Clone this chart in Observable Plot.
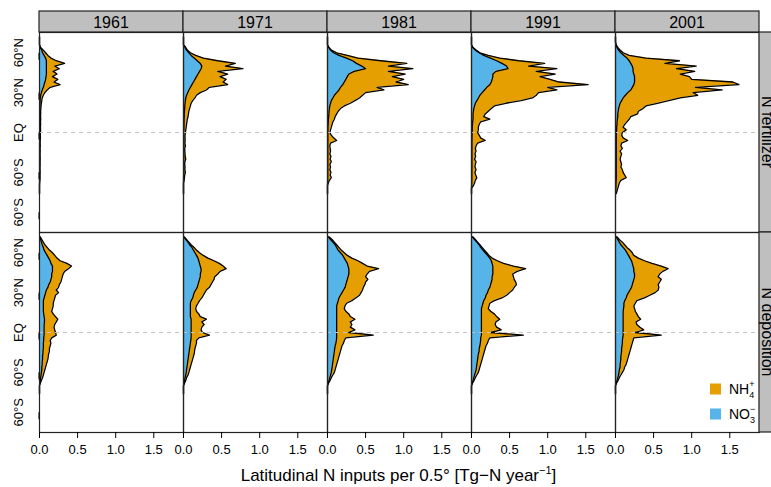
<!DOCTYPE html>
<html><head><meta charset="utf-8">
<script src="https://cdn.jsdelivr.net/npm/d3@7"></script>
<script src="https://cdn.jsdelivr.net/npm/@observablehq/plot@0.6"></script>
<style>
body{margin:0;background:#fff;}
#chart svg{display:block;}
</style></head><body><div id="chart"></div>
<script>
// latitude grid (axis units)
const lat = [72,70,68,66,64,62,60,58,56,54, 52,50,48,46,44,42,40,38,36,34, 32,30,28,26,24,22,20,18,16,14, 12,10,8,6,4,2,0,-2,-4,-6, -8,-10,-12,-14,-16,-18,-20,-22,-24,-26, -28,-30,-32,-34,-36,-38,-40,-42,-44,-46];
const years = ["1961","1971","1981","1991","2001"];
const types = ["N fertilizer","N deposition"];
const species = ["NO3","NH4"];
const xTicks = [0, 0.5, 1, 1.5];
const yTicks = [60, 30, 0, -30, -60];
const yTickLabels = ["60°N","30°N","EQ","60°S","60°S"];

// N fertilizer
const fert1961_NO3 = [0,0,0,0,0.01,0.03,0.04,0.06,0.08,0.09, 0.09,0.09,0.09,0.09,0.09,0.085,0.08,0.07,0.06,0.05, 0.035,0.025,0.015,0.01,0.008,0.006,0.005,0.004,0.003,0.003, 0.003,0.003,0.003,0.003,0.002,0.002,0.002,0.002,0.002,0.002, 0.001,0.001,0.001,0.001,0.001,0.001,0.001,0.001,0.001,0.001, 0.001,0.001,0.001,0.001,0.001,0,0,0,0,0];
const fert1961_NH4 = [0,0,0,0,0.005,0.02,0.04,0.05,0.07,0.13, 0.24,0.11,0.17,0.09,0.14,0.085,0.16,0.12,0.21,0.09, 0.065,0.045,0.035,0.025,0.022,0.019,0.015,0.014,0.012,0.012, 0.011,0.013,0.010,0.012,0.010,0.012,0.010,0.008,0.010,0.007, 0.007,0.009,0.006,0.008,0.006,0.007,0.008,0.006,0.007,0.005, 0.006,0.007,0.005,0.006,0.004,0.002,0,0,0,0];
const fert1971_NO3 = [0,0,0,0,0.02,0.04,0.07,0.10,0.14,0.18, 0.22,0.24,0.23,0.21,0.19,0.17,0.15,0.13,0.11,0.09, 0.07,0.055,0.04,0.03,0.025,0.02,0.017,0.015,0.012,0.01, 0.01,0.008,0.007,0.006,0.005,0.004,0.003,0.002,0.002,0.002, 0.002,0.002,0.002,0.002,0.002,0.002,0.002,0.002,0.002,0.002, 0.002,0.002,0.002,0.001,0.001,0,0,0,0,0];
const fert1971_NH4 = [0,0,0,0,0.01,0.01,0.02,0.06,0.12,0.27, 0.46,0.31,0.55,0.24,0.39,0.31,0.41,0.39,0.47,0.25, 0.23,0.165,0.13,0.12,0.095,0.08,0.073,0.065,0.058,0.055, 0.05,0.042,0.038,0.034,0.03,0.026,0.022,0.018,0.018,0.02, 0.016,0.023,0.014,0.016,0.018,0.02,0.028,0.016,0.014,0.018, 0.016,0.023,0.014,0.011,0.007,0,0,0,0,0];
const fert1981_NO3 = [0,0,0,0,0.015,0.04,0.08,0.15,0.25,0.33, 0.38,0.45,0.50,0.35,0.28,0.26,0.24,0.22,0.20,0.17, 0.15,0.12,0.09,0.07,0.05,0.04,0.03,0.025,0.02,0.018, 0.015,0.012,0.01,0.008,0.006,0.005,0.004,0.004,0.004,0.004, 0.003,0.003,0.003,0.003,0.003,0.003,0.003,0.003,0.003,0.003, 0.003,0.003,0.003,0.003,0.002,0.001,0,0,0,0];
const fert1981_NH4 = [0,0,0,0,0.005,0.01,0.04,0.11,0.15,0.37, 0.66,0.35,0.62,0.45,0.74,0.59,0.76,0.68,0.86,0.48, 0.59,0.38,0.37,0.35,0.31,0.26,0.19,0.145,0.12,0.102, 0.085,0.078,0.06,0.052,0.044,0.035,0.026,0.046,0.076,0.116, 0.037,0.027,0.032,0.037,0.027,0.042,0.032,0.047,0.027,0.037, 0.027,0.042,0.032,0.047,0.023,0.009,0,0,0,0];
const fert1991_NO3 = [0,0,0,0,0.015,0.05,0.10,0.16,0.25,0.33, 0.40,0.46,0.48,0.32,0.28,0.28,0.27,0.26,0.24,0.20, 0.17,0.14,0.11,0.09,0.07,0.05,0.04,0.03,0.025,0.02, 0.02,0.02,0.015,0.012,0.01,0.01,0.008,0.007,0.006,0.006, 0.005,0.005,0.005,0.005,0.005,0.005,0.005,0.005,0.005,0.005, 0.004,0.004,0.004,0.004,0.003,0.003,0.002,0,0,0];
const fert1991_NH4 = [0,0,0,0,0.005,0.01,0.01,0.06,0.12,0.29, 0.56,0.29,0.64,0.53,0.82,0.62,0.76,0.89,1.29,0.80, 0.95,0.74,0.74,0.71,0.58,0.40,0.26,0.23,0.195,0.16, 0.14,0.22,0.105,0.088,0.08,0.08,0.072,0.093,0.114,0.174, 0.075,0.055,0.045,0.055,0.04,0.05,0.035,0.055,0.045,0.04, 0.056,0.041,0.051,0.066,0.047,0.037,0.023,0,0,0];
const fert2001_NO3 = [0,0,0,0.005,0.02,0.04,0.07,0.11,0.15,0.18, 0.20,0.22,0.23,0.23,0.24,0.25,0.25,0.25,0.24,0.22, 0.20,0.16,0.13,0.10,0.08,0.06,0.05,0.04,0.035,0.03, 0.03,0.025,0.02,0.02,0.015,0.015,0.012,0.01,0.01,0.01, 0.01,0.01,0.01,0.01,0.01,0.01,0.01,0.01,0.01,0.01, 0.01,0.01,0.01,0.01,0.008,0.006,0.005,0.004,0.003,0.002];
const fert2001_NH4 = [0,0,0,0.005,0.01,0.02,0.03,0.07,0.25,0.66, 0.45,0.84,0.57,0.81,0.61,0.72,0.75,1.29,1.38,0.83, 1.20,0.86,0.95,0.75,0.62,0.49,0.35,0.32,0.265,0.26, 0.17,0.155,0.13,0.10,0.085,0.125,0.078,0.07,0.09,0.15, 0.07,0.06,0.08,0.05,0.07,0.06,0.05,0.06,0.07,0.06, 0.08,0.09,0.11,0.13,0.062,0.044,0.035,0.026,0.017,0.008];

// N deposition
const dep1961_NO3 = [0.005,0.015,0.025,0.035,0.05,0.06,0.08,0.10,0.12,0.14, 0.15,0.17,0.17,0.17,0.16,0.16,0.15,0.14,0.12,0.11, 0.09,0.08,0.07,0.06,0.05,0.05,0.05,0.05,0.05,0.055, 0.06,0.065,0.065,0.06,0.06,0.06,0.06,0.06,0.055,0.055, 0.05,0.05,0.05,0.045,0.045,0.04,0.04,0.035,0.035,0.03, 0.03,0.025,0.02,0.015,0.01,0.005,0,0,0,0];
const dep1961_NH4 = [0.005,0.015,0.025,0.035,0.05,0.07,0.09,0.10,0.11,0.13, 0.21,0.25,0.21,0.16,0.15,0.14,0.14,0.14,0.14,0.14, 0.13,0.17,0.14,0.14,0.14,0.13,0.13,0.12,0.11,0.125, 0.15,0.175,0.155,0.14,0.13,0.14,0.15,0.16,0.105,0.085, 0.10,0.09,0.08,0.085,0.075,0.075,0.07,0.065,0.055,0.05, 0.04,0.035,0.03,0.025,0.015,0.007,0,0,0,0];
const dep1971_NO3 = [0.005,0.03,0.06,0.08,0.11,0.13,0.15,0.17,0.19,0.20, 0.21,0.22,0.23,0.23,0.22,0.22,0.21,0.20,0.19,0.18, 0.16,0.14,0.13,0.12,0.10,0.09,0.09,0.09,0.09,0.09, 0.09,0.10,0.10,0.10,0.10,0.10,0.10,0.10,0.10,0.095, 0.09,0.085,0.08,0.075,0.07,0.065,0.06,0.055,0.05,0.045, 0.04,0.035,0.03,0.02,0.015,0.007,0,0,0,0];
const dep1971_NH4 = [0.005,0.01,0.01,0.02,0.03,0.04,0.06,0.09,0.13,0.20, 0.26,0.30,0.33,0.25,0.23,0.19,0.19,0.18,0.17,0.16, 0.14,0.14,0.13,0.12,0.11,0.10,0.08,0.07,0.08,0.11, 0.13,0.20,0.14,0.17,0.14,0.13,0.15,0.24,0.10,0.075, 0.08,0.075,0.07,0.07,0.07,0.065,0.06,0.055,0.05,0.045, 0.04,0.035,0.03,0.02,0.015,0.008,0,0,0,0];
const dep1981_NO3 = [0.01,0.04,0.07,0.10,0.12,0.14,0.17,0.20,0.22,0.24, 0.26,0.27,0.28,0.28,0.28,0.27,0.26,0.25,0.24,0.23, 0.21,0.19,0.17,0.15,0.14,0.13,0.12,0.12,0.12,0.12, 0.12,0.12,0.12,0.12,0.12,0.12,0.12,0.12,0.12,0.115, 0.11,0.10,0.095,0.09,0.085,0.08,0.075,0.07,0.065,0.06, 0.055,0.05,0.04,0.03,0.02,0.01,0,0,0,0];
const dep1981_NH4 = [0.01,0.02,0.02,0.02,0.03,0.04,0.05,0.06,0.10,0.16, 0.20,0.25,0.39,0.27,0.24,0.23,0.27,0.25,0.25,0.24, 0.25,0.25,0.25,0.22,0.18,0.12,0.11,0.10,0.12,0.16, 0.18,0.24,0.18,0.20,0.18,0.24,0.16,0.48,0.12,0.105, 0.10,0.09,0.085,0.08,0.075,0.07,0.065,0.06,0.055,0.05, 0.045,0.04,0.03,0.02,0.015,0.005,0,0,0,0];
const dep1991_NO3 = [0.01,0.04,0.07,0.10,0.12,0.15,0.18,0.21,0.24,0.26, 0.27,0.28,0.28,0.28,0.28,0.27,0.27,0.26,0.25,0.24, 0.22,0.21,0.19,0.18,0.16,0.15,0.14,0.13,0.13,0.13, 0.13,0.13,0.13,0.13,0.13,0.13,0.13,0.13,0.12,0.12, 0.115,0.11,0.10,0.10,0.09,0.085,0.08,0.075,0.07,0.065, 0.06,0.05,0.04,0.03,0.02,0.01,0,0,0,0];
const dep1991_NH4 = [0.01,0.01,0.01,0.01,0.02,0.02,0.02,0.02,0.03,0.08, 0.15,0.27,0.43,0.32,0.26,0.28,0.29,0.32,0.34,0.32, 0.32,0.29,0.27,0.22,0.14,0.09,0.09,0.09,0.12,0.17, 0.20,0.24,0.19,0.18,0.20,0.26,0.12,0.55,0.12,0.10, 0.095,0.08,0.08,0.07,0.07,0.065,0.06,0.055,0.05,0.045, 0.04,0.04,0.03,0.02,0.015,0.005,0,0,0,0];
const dep2001_NO3 = [0.01,0.03,0.05,0.07,0.10,0.13,0.15,0.17,0.19,0.21, 0.22,0.23,0.24,0.24,0.25,0.25,0.24,0.23,0.22,0.21, 0.19,0.17,0.15,0.14,0.12,0.11,0.11,0.105,0.10,0.10, 0.10,0.10,0.10,0.10,0.10,0.10,0.10,0.10,0.095,0.09, 0.09,0.085,0.08,0.08,0.075,0.07,0.07,0.065,0.06,0.06, 0.05,0.045,0.04,0.03,0.02,0.01,0,0,0,0];
const dep2001_NH4 = [0.01,0.02,0.04,0.05,0.05,0.06,0.07,0.07,0.11,0.17, 0.26,0.37,0.45,0.38,0.33,0.31,0.36,0.35,0.34,0.36, 0.37,0.35,0.30,0.24,0.16,0.15,0.13,0.145,0.16,0.18, 0.20,0.23,0.17,0.18,0.22,0.27,0.16,0.50,0.145,0.14, 0.13,0.125,0.12,0.11,0.105,0.10,0.09,0.085,0.08,0.06, 0.06,0.045,0.03,0.02,0.015,0.005,0,0,0,0];

const orange = "#E69F00", blue = "#56B4E9";
const stripFill = "#bfbfbf";
const font = "'Liberation Sans', Arial, Helvetica, sans-serif";

const series = [
  ["N fertilizer","1961",fert1961_NO3,fert1961_NH4],
  ["N fertilizer","1971",fert1971_NO3,fert1971_NH4],
  ["N fertilizer","1981",fert1981_NO3,fert1981_NH4],
  ["N fertilizer","1991",fert1991_NO3,fert1991_NH4],
  ["N fertilizer","2001",fert2001_NO3,fert2001_NH4],
  ["N deposition","1961",dep1961_NO3,dep1961_NH4],
  ["N deposition","1971",dep1971_NO3,dep1971_NH4],
  ["N deposition","1981",dep1981_NO3,dep1981_NH4],
  ["N deposition","1991",dep1991_NO3,dep1991_NH4],
  ["N deposition","2001",dep2001_NO3,dep2001_NH4]
];
const rows = [];
for (const [type, year, no3, nh4] of series) {
  lat.forEach((l, i) => rows.push({type, year, species: "NO3", lat: l, value: no3[i]}));
  lat.forEach((l, i) => rows.push({type, year, species: "NH4", lat: l, value: nh4[i]}));
}

const stackOpts = {y: "lat", x: "value", z: "species", fx: "year", fy: "type", order: species};

const plot = Plot.plot({
  width: 771, height: 487,
  marginLeft: 38, marginRight: 12, marginTop: 32, marginBottom: 55,
  style: {fontFamily: font, fontSize: "13px", color: "black", background: "white", overflow: "visible"},
  x: {domain: [0, 1.89]},
  y: {domain: [-75.25, 75.25]},
  fx: {domain: years, padding: 0, axis: null},
  fy: {domain: types, padding: 0, axis: null},
  color: {domain: ["NH4", "NO3"], range: [orange, blue]},
  marks: [
    Plot.areaX(rows, Plot.stackX({...stackOpts, fill: "species", curve: "linear"})),
    Plot.lineX(rows, Plot.stackX2({...stackOpts, stroke: "black", strokeWidth: 1.3, curve: "linear"})),
    Plot.ruleY([0], {stroke: "#c4c4c4", strokeWidth: 1, strokeDasharray: "4,4"}),
    Plot.frame({stroke: "#222", strokeWidth: 1.2}),
    Plot.axisX(xTicks, {tickFormat: d => d.toFixed(1), tickSize: 6, tickPadding: 6, fontSize: 13, label: null}),
    Plot.axisY(yTicks, {tickFormat: d => yTickLabels[yTicks.indexOf(d)], rotate: -90, textAnchor: "middle", tickSize: 7, tickPadding: 14, fontSize: 13, label: null})
  ]
});

document.getElementById("chart").appendChild(plot);

const svg = d3.select(plot);
const fx = plot.scale("fx"), fy = plot.scale("fy");
const W = 771, mR = 12, mT = 32;
const g = svg.append("g").attr("font-family", font);

// top strips
for (const yr of years) {
  const x0 = fx.apply(yr), w = fx.bandwidth;
  g.append("rect").attr("x", x0).attr("y", 11).attr("width", w).attr("height", mT - 11)
    .attr("fill", stripFill).attr("stroke", "#222").attr("stroke-width", 1.2);
  g.append("text").attr("x", x0 + w / 2).attr("y", 27.5).attr("text-anchor", "middle")
    .attr("font-size", 16).text(yr);
}
// right strips
for (const t of types) {
  const y0 = fy.apply(t), h = fy.bandwidth;
  g.append("rect").attr("x", W - mR).attr("y", y0).attr("width", 30).attr("height", h)
    .attr("fill", stripFill).attr("stroke", "#222").attr("stroke-width", 1.2);
  g.append("text").attr("transform", `translate(${W - mR + 3},${y0 + h / 2}) rotate(90)`)
    .attr("text-anchor", "middle").attr("font-size", 16).text(t);
}
// x axis title
const xt = g.append("text").attr("x", (38 + W - mR) / 2).attr("y", 481).attr("text-anchor", "middle").attr("font-size", 17);
xt.append("tspan").text("Latitudinal N inputs per 0.5° [Tg\u2212N year");
xt.append("tspan").attr("font-size", 11).attr("dy", -7).text("\u22121");
xt.append("tspan").attr("dy", 7).text("]");

// legend inside 2001 deposition panel
const lx = fx.apply("2001") + 95, ly = fy.apply("N deposition") + 151.5;
const leg = [["NH", "4", "+", orange], ["NO", "3", "\u2212", blue]];
leg.forEach(([base, sub, sup, col], i) => {
  const yy = ly + i * 25;
  g.append("rect").attr("x", lx).attr("y", yy).attr("width", 11).attr("height", 11).attr("fill", col);
  const t = g.append("text").attr("x", lx + 19).attr("y", yy + 10).attr("font-size", 14).attr("text-anchor", "start");
  t.append("tspan").text(base);
  t.append("tspan").attr("font-size", 9).attr("dy", 4).text(sub);
  t.append("tspan").attr("font-size", 9).attr("dx", -5).attr("dy", -11).text(sup);
});
</script></body></html>
